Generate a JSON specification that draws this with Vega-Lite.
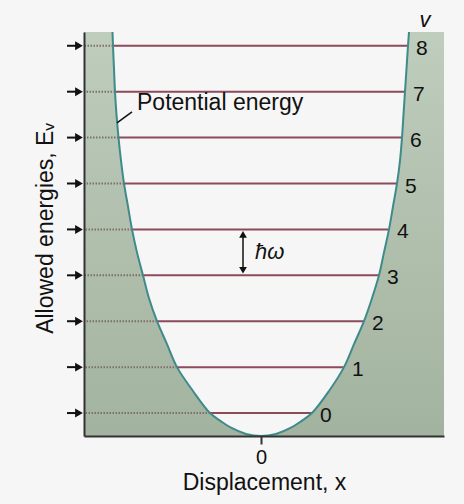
{
  "$schema": "https://vega.github.io/schema/vega-lite/v6.json",
  "width": 360,
  "height": 404,
  "autosize": "none",
  "padding": {"left": 84, "top": 32, "right": 20, "bottom": 68},
  "background": "#f6f6f6",
  "config": {"view": {"stroke": null}, "font": "Liberation Sans"},
  "datasets": {
    "curve": [
      {"side": "L", "x": -148.5, "E": 8.8}, {"side": "L", "x": -148, "E": 8.5}, {"side": "L", "x": -147, "E": 8.0}, {"side": "L", "x": -146, "E": 7.5},
      {"side": "L", "x": -144.5, "E": 7.0}, {"side": "L", "x": -142.5, "E": 6.5}, {"side": "L", "x": -140, "E": 6.0}, {"side": "L", "x": -137, "E": 5.5},
      {"side": "L", "x": -133, "E": 5.0}, {"side": "L", "x": -129, "E": 4.5}, {"side": "L", "x": -124, "E": 4.0}, {"side": "L", "x": -118, "E": 3.5},
      {"side": "L", "x": -112, "E": 3.0}, {"side": "L", "x": -104, "E": 2.5}, {"side": "L", "x": -94, "E": 2.0}, {"side": "L", "x": -84, "E": 1.5},
      {"side": "L", "x": -68, "E": 0.98}, {"side": "L", "x": -51, "E": 0.5}, {"side": "L", "x": -40, "E": 0.32}, {"side": "L", "x": -30, "E": 0.18},
      {"side": "L", "x": -15, "E": 0.045},
      {"side": "C", "x": 0, "E": 0},
      {"side": "R", "x": 15, "E": 0.045}, {"side": "R", "x": 30, "E": 0.18}, {"side": "R", "x": 40, "E": 0.32},
      {"side": "R", "x": 51, "E": 0.5}, {"side": "R", "x": 68, "E": 0.98}, {"side": "R", "x": 83, "E": 1.5}, {"side": "R", "x": 93, "E": 2.0},
      {"side": "R", "x": 103, "E": 2.5}, {"side": "R", "x": 111, "E": 3.0}, {"side": "R", "x": 118, "E": 3.5}, {"side": "R", "x": 123, "E": 4.0},
      {"side": "R", "x": 128, "E": 4.5}, {"side": "R", "x": 132, "E": 5.0}, {"side": "R", "x": 136, "E": 5.5}, {"side": "R", "x": 139, "E": 6.0},
      {"side": "R", "x": 141, "E": 6.5}, {"side": "R", "x": 142.5, "E": 7.0}, {"side": "R", "x": 144, "E": 7.5}, {"side": "R", "x": 145.5, "E": 8.0},
      {"side": "R", "x": 147, "E": 8.5}, {"side": "R", "x": 148, "E": 8.8}
    ],
    "levels": [
      {"n": 0, "E": 0.5, "wl": -51, "wr": 51},
      {"n": 1, "E": 1.5, "wl": -84, "wr": 83},
      {"n": 2, "E": 2.5, "wl": -104, "wr": 103},
      {"n": 3, "E": 3.5, "wl": -118, "wr": 118},
      {"n": 4, "E": 4.5, "wl": -129, "wr": 128},
      {"n": 5, "E": 5.5, "wl": -137, "wr": 136},
      {"n": 6, "E": 6.5, "wl": -142.5, "wr": 141},
      {"n": 7, "E": 7.5, "wl": -146, "wr": 144},
      {"n": 8, "E": 8.5, "wl": -148, "wr": 147}
    ],
    "notes": [
      {"key": "pe", "text": "Potential energy", "x": -124, "E": 7.25},
      {"key": "hw", "text": "ħω", "x": -6, "E": 4.0},
      {"key": "v", "text": "v", "x": 164, "E": 9.06}
    ],
    "leader": [{"x": -144, "E": 6.82, "x2": -129, "E2": 7.06}],
    "gap": [{"x": -18, "E": 3.5, "E2": 4.5, "Etop": 4.39, "Ebot": 3.61}]
  },
  "layer": [
    {
      "data": {"name": "curve"},
      "transform": [{"filter": "datum.side != 'R'"}],
      "mark": {"type": "area", "orient": "horizontal", "interpolate": "catmull-rom",
        "color": {"gradient": "linear", "x1": 0, "y1": 0, "x2": 0, "y2": 1, "stops": [{"offset": 0, "color": "#bfcdbc"}, {"offset": 1, "color": "#a2b39f"}]}},
      "encoding": {
        "y": {"field": "E", "type": "quantitative", "scale": {"domain": [0, 8.8], "nice": false, "zero": false},
          "axis": {"title": "Allowed energies, Eᵥ", "ticks": false, "labels": false, "grid": false, "domainColor": "#333333", "domainWidth": 2, "zindex": 1,
            "titleFontSize": 23, "titleFontWeight": "normal", "titleColor": "#111111", "titleX": -39, "titleY": 196, "titleAngle": -90,
            "titleAlign": "center", "titleBaseline": "middle"}},
        "x": {"field": "x", "type": "quantitative", "stack": null, "scale": {"domain": [-177, 183], "nice": false, "zero": false},
          "axis": {"title": "Displacement, x", "values": [0], "grid": false, "domainColor": "#333333", "domainWidth": 2, "zindex": 1,
            "tickColor": "#333333", "tickWidth": 2, "tickSize": 8, "labelFontSize": 20, "labelColor": "#111111", "labelPadding": 3,
            "titleFontSize": 23, "titleFontWeight": "normal", "titleColor": "#111111", "titleY": 53, "titleBaseline": "alphabetic"}},
        "x2": {"datum": -177}
      }
    },
    {
      "data": {"name": "curve"},
      "transform": [{"filter": "datum.side != 'L'"}],
      "mark": {"type": "area", "orient": "horizontal", "interpolate": "catmull-rom",
        "color": {"gradient": "linear", "x1": 0, "y1": 0, "x2": 0, "y2": 1, "stops": [{"offset": 0, "color": "#bfcdbc"}, {"offset": 1, "color": "#a2b39f"}]}},
      "encoding": {
        "y": {"field": "E", "type": "quantitative"},
        "x": {"field": "x", "type": "quantitative", "stack": null},
        "x2": {"datum": 183}
      }
    },
    {
      "data": {"name": "levels"},
      "mark": {"type": "rule", "color": "#7f6e68", "strokeWidth": 2, "strokeDash": [1.5, 1.5]},
      "encoding": {
        "y": {"field": "E", "type": "quantitative"},
        "x": {"field": "wl", "type": "quantitative"},
        "x2": {"datum": -177}
      }
    },
    {
      "data": {"name": "levels"},
      "mark": {"type": "rule", "color": "#8c4a5a", "strokeWidth": 2},
      "encoding": {
        "y": {"field": "E", "type": "quantitative"},
        "x": {"field": "wl", "type": "quantitative"},
        "x2": {"field": "wr"}
      }
    },
    {
      "data": {"name": "curve"},
      "mark": {"type": "line", "color": "#3f8a8a", "strokeWidth": 2, "interpolate": "catmull-rom"},
      "encoding": {
        "x": {"field": "x", "type": "quantitative"},
        "y": {"field": "E", "type": "quantitative"},
        "order": {"field": "x", "type": "quantitative"}
      }
    },
    {
      "data": {"name": "levels"},
      "mark": {"type": "rule", "color": "#111111", "strokeWidth": 2},
      "encoding": {
        "y": {"field": "E", "type": "quantitative"},
        "x": {"datum": -194, "type": "quantitative"},
        "x2": {"datum": -182}
      }
    },
    {
      "data": {"name": "levels"},
      "mark": {"type": "point", "shape": "triangle-right", "filled": true, "color": "#111111", "size": 80, "opacity": 1},
      "encoding": {
        "y": {"field": "E", "type": "quantitative"},
        "x": {"datum": -182, "type": "quantitative"}
      }
    },
    {
      "data": {"name": "levels"},
      "mark": {"type": "text", "align": "left", "baseline": "middle", "dx": 8, "dy": 3, "fontSize": 21, "color": "#111111"},
      "encoding": {
        "y": {"field": "E", "type": "quantitative"},
        "x": {"field": "wr", "type": "quantitative"},
        "text": {"field": "n", "type": "nominal"}
      }
    },
    {
      "data": {"name": "notes"},
      "transform": [{"filter": "datum.key == 'pe'"}],
      "mark": {"type": "text", "align": "left", "baseline": "middle", "fontSize": 23, "color": "#111111"},
      "encoding": {
        "y": {"field": "E", "type": "quantitative"},
        "x": {"field": "x", "type": "quantitative"},
        "text": {"field": "text", "type": "nominal"}
      }
    },
    {
      "data": {"name": "notes"},
      "transform": [{"filter": "datum.key == 'hw'"}],
      "mark": {"type": "text", "align": "left", "baseline": "middle", "fontSize": 22, "fontStyle": "italic", "color": "#111111"},
      "encoding": {
        "y": {"field": "E", "type": "quantitative"},
        "x": {"field": "x", "type": "quantitative"},
        "text": {"field": "text", "type": "nominal"}
      }
    },
    {
      "data": {"name": "notes"},
      "transform": [{"filter": "datum.key == 'v'"}],
      "mark": {"type": "text", "align": "center", "baseline": "middle", "fontSize": 22, "fontStyle": "italic", "color": "#111111"},
      "encoding": {
        "y": {"field": "E", "type": "quantitative"},
        "x": {"field": "x", "type": "quantitative"},
        "text": {"field": "text", "type": "nominal"}
      }
    },
    {
      "data": {"name": "leader"},
      "mark": {"type": "rule", "color": "#111111", "strokeWidth": 1.5},
      "encoding": {
        "x": {"field": "x", "type": "quantitative"},
        "y": {"field": "E", "type": "quantitative"},
        "x2": {"field": "x2"},
        "y2": {"field": "E2"}
      }
    },
    {
      "data": {"name": "gap"},
      "mark": {"type": "rule", "color": "#111111", "strokeWidth": 1.5},
      "encoding": {
        "x": {"field": "x", "type": "quantitative"},
        "y": {"field": "Ebot", "type": "quantitative"},
        "y2": {"field": "Etop"}
      }
    },
    {
      "data": {"name": "gap"},
      "mark": {"type": "point", "shape": "triangle-up", "filled": true, "color": "#111111", "size": 60, "opacity": 1},
      "encoding": {
        "x": {"field": "x", "type": "quantitative"},
        "y": {"field": "Etop", "type": "quantitative"}
      }
    },
    {
      "data": {"name": "gap"},
      "mark": {"type": "point", "shape": "triangle-down", "filled": true, "color": "#111111", "size": 60, "opacity": 1},
      "encoding": {
        "x": {"field": "x", "type": "quantitative"},
        "y": {"field": "Ebot", "type": "quantitative"}
      }
    }
  ]
}
